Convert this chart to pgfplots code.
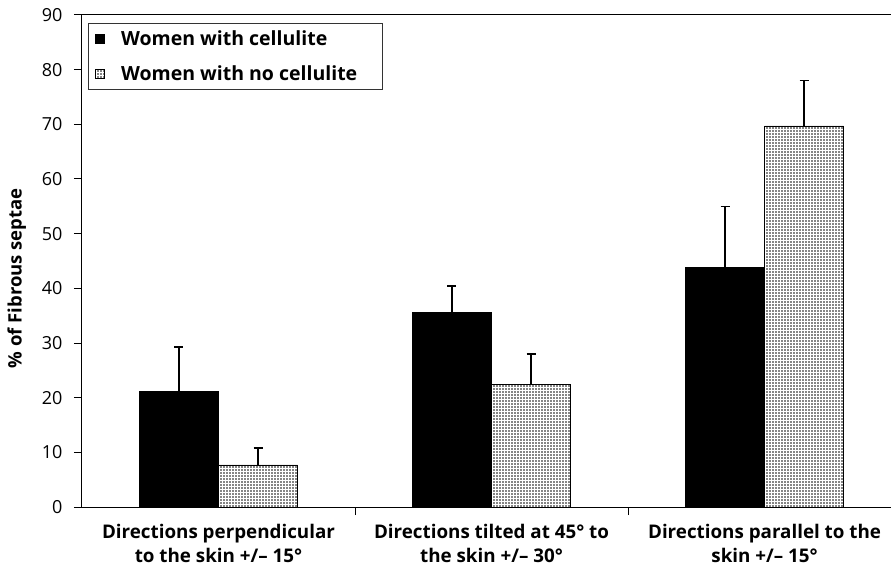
\documentclass[border=0pt]{standalone}
\usepackage{pgfplots}
\pgfplotsset{compat=1.18}
\usepackage{pgfplotstable}
\usepackage{fontspec}
\setmainfont{Open Sans}
\usetikzlibrary{patterns}

% x: bar centre (categories at 0.5, 1.5, 2.5), y: mean, e: upper error
\pgfplotstableread{
x     y    e
0.355 21.2 8.1
1.355 35.6 4.8
2.355 43.9 11.1
}\withcell
\pgfplotstableread{
x     y    e
0.645 7.7  3.1
1.645 22.5 5.5
2.645 69.7 8.3
}\nocell

\begin{document}
\begin{tikzpicture}
\begin{axis}[
  name=ax,
  scale only axis, width=809pt, height=492pt,
  xmin=0, xmax=2.963, ymin=0, ymax=90,
  axis x line=box, axis y line=left,
  axis line style={-, line width=1pt, black},
  tick pos=left, tick align=outside,
  major tick length=8pt,
  tick style={line width=1pt, black},
  xtick={1,2}, xticklabels={},
  extra x ticks={0.5,1.5,2.5},
  extra x tick labels={{Directions perpendicular\\to the skin +/– 15°},
                       {Directions tilted at 45° to\\the skin +/– 30°},
                       {Directions parallel to the\\skin +/– 15°}},
  extra x tick style={major tick length=0pt, tick style={draw=none}},
  x tick label style={font=\bfseries\fontsize{18.8}{23.5}\selectfont, align=center, yshift=-14pt},
  ytick={0,10,...,90},
  y tick label style={font=\fontsize{18}{20}\selectfont, xshift=-8pt},
  /pgf/number format/assume math mode=true,
  ylabel={\% of Fibrous septae},
  ylabel style={font=\bfseries\fontsize{18.5}{20}\selectfont, at={(ticklabel cs:0.465,9pt)}},
  legend style={at={(0,1)}, anchor=north west, xshift=6pt, yshift=-8pt,
    draw=black!80, line width=1.2pt,
    font=\bfseries\fontsize{19.5}{22}\selectfont,
    row sep=15pt, column sep=15pt, inner xsep=6pt, inner ysep=5pt},
  legend cell align=left,
  legend image code/.code={
    \draw[#1, line width=0.5pt] (0pt,-4.5pt) rectangle (9pt,4.5pt);},
]
\addplot[ybar, bar width=0.289, bar shift=0pt, fill=black, draw=black, line width=0.6pt,
  error bars/.cd, y dir=plus, y explicit,
  error bar style={line width=1.4pt, black},
  error mark options={rotate=90, mark size=4.5pt, line width=1.4pt, black}]
  table[x=x, y=y, y error=e] {\withcell};
\addlegendentry{Women with cellulite}
\addplot[ybar, bar width=0.289, bar shift=0pt, fill=black!48, draw=black, line width=0.6pt,
  postaction={pattern=grid, pattern color=white},
  error bars/.cd, y dir=plus, y explicit,
  error bar style={line width=1.4pt, black},
  error mark options={rotate=90, mark size=4.5pt, line width=1.4pt, black}]
  table[x=x, y=y, y error=e] {\nocell};
\addlegendentry{Women with no cellulite\kern17pt}
\end{axis}
\pgfresetboundingbox
\path ([shift={(-82pt,-63pt)}]ax.south west) rectangle ([shift={(0pt,15pt)}]ax.north east);
\end{tikzpicture}
\end{document}
